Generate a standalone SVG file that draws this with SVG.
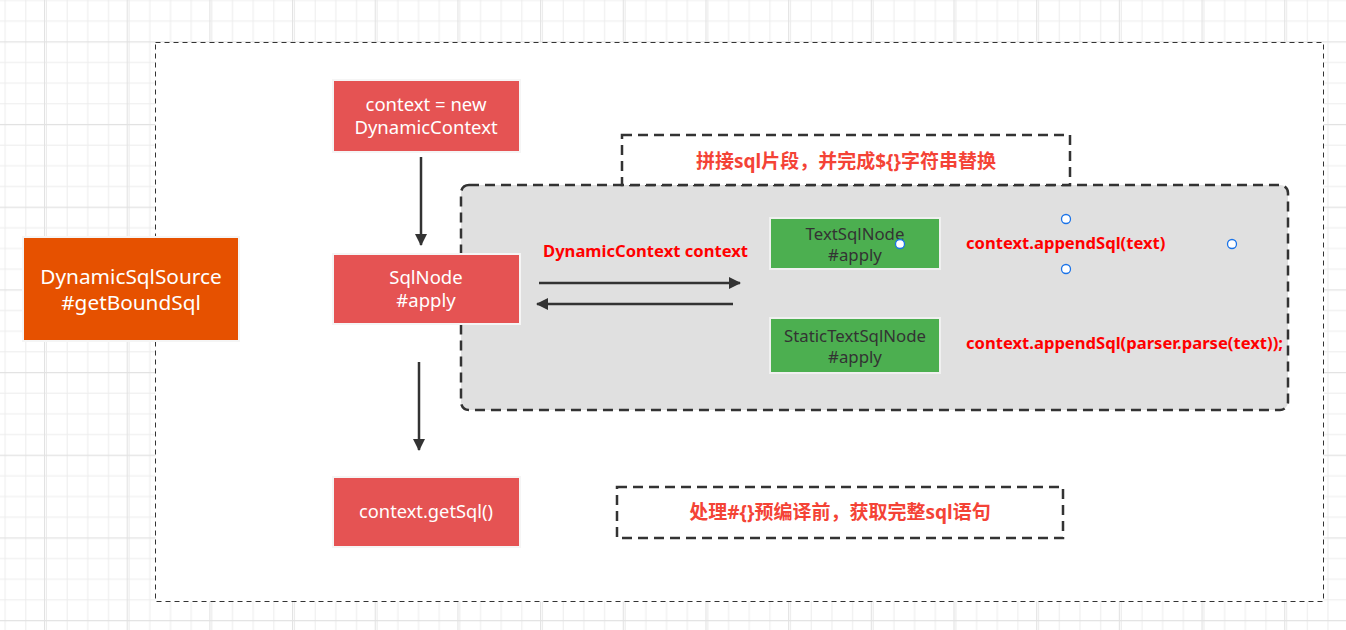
<svg xmlns="http://www.w3.org/2000/svg" width="1346" height="630" viewBox="0 0 1346 630">
<defs>
<pattern id="gs" width="20.67" height="20.67" patternUnits="userSpaceOnUse" x="2" y="0">
<path d="M0 0.5H20.67M0.5 0V20.67" fill="none" stroke="#ececec" stroke-width="1"/>
</pattern>
<pattern id="gl" width="82.68" height="82.68" patternUnits="userSpaceOnUse" x="44" y="41.3">
<rect width="82.68" height="82.68" fill="url(#gs)"/>
<path d="M0 0.5H82.68M0.5 0V82.68" fill="none" stroke="#e2e2e2" stroke-width="1.3"/>
</pattern>
<marker id="ah" viewBox="0 0 12 12" refX="11" refY="6" markerWidth="12" markerHeight="12" markerUnits="userSpaceOnUse" orient="auto">
<path d="M0 0L12 6L0 12Z" fill="#333"/>
</marker>
<style>
.red{fill:#e55353;stroke:#f5f5f5;stroke-width:2}
.grn{fill:#4caf50;stroke:#f0f0f0;stroke-width:2}
.wt{font-family:"Noto Sans","Noto Sans CJK SC",sans-serif;fill:#fff;text-anchor:middle}
.dt{font-family:"Noto Sans","Noto Sans CJK SC",sans-serif;fill:#333;font-size:16.8px;text-anchor:middle}
.rb{font-family:"Noto Sans","Noto Sans CJK SC",sans-serif;fill:#ff0000;font-weight:bold;font-size:16.6px}
.lb{font-family:"Noto Sans","Noto Sans CJK SC",sans-serif;fill:#f44336;font-weight:bold;font-size:19px;text-anchor:middle}
.dash{fill:#fff;stroke:#333;stroke-width:2.5;stroke-dasharray:10 6}
.cn{stroke:#333;stroke-width:2.5;fill:none;marker-end:url(#ah)}
.hd{fill:#fff;stroke:#1a73e8;stroke-width:1.3}
</style>
</defs>
<rect width="1346" height="630" fill="#fff"/>
<rect width="1346" height="630" fill="url(#gl)"/>
<g id="outer">
<rect x="155.5" y="42.5" width="1168" height="559" fill="#fff" stroke="#333" stroke-width="1" stroke-dasharray="5 4"/>
</g>
<g id="source">
<rect x="23" y="237" width="216" height="104" fill="#e65100" stroke="#f5f5f5" stroke-width="2"/>
<text class="wt" font-size="20.8" x="131" y="284">DynamicSqlSource</text>
<text class="wt" font-size="20.8" x="131" y="310">#getBoundSql</text>
</g>
<g id="ctxnew">
<rect class="red" x="333" y="80" width="187" height="72"/>
<text class="wt" font-size="18.5" x="426" y="111">context = new</text>
<text class="wt" font-size="18.5" x="426" y="134">DynamicContext</text>
</g>
<g id="group">
<rect x="461" y="185" width="827" height="225" rx="8" fill="#e0e0e0" stroke="#333" stroke-width="2.5" stroke-dasharray="10 6"/>
</g>
<g id="label1">
<rect class="dash" x="622" y="135" width="448" height="50"/>
<text class="lb" x="846" y="168">拼接sql片段，并完成${}字符串替换</text>
</g>
<g id="sqlnode">
<rect class="red" x="333" y="254" width="187" height="70"/>
<text class="wt" font-size="18.5" x="426" y="284">SqlNode</text>
<text class="wt" font-size="18.5" x="426" y="307">#apply</text>
</g>
<g id="getsql">
<rect class="red" x="333" y="477" width="187" height="70"/>
<text class="wt" font-size="18.3" x="426" y="518">context.getSql()</text>
</g>
<g id="textsqlnode">
<rect class="grn" x="770" y="218" width="170" height="51"/>
<text class="dt" x="855" y="240">TextSqlNode</text>
<text class="dt" x="855" y="261">#apply</text>
</g>
<g id="statictextsqlnode">
<rect class="grn" x="770" y="318" width="170" height="55"/>
<text class="dt" x="855" y="342">StaticTextSqlNode</text>
<text class="dt" x="855" y="363">#apply</text>
</g>
<g id="texts">
<text class="rb" x="543" y="257">DynamicContext context</text>
<text class="rb" x="966" y="249">context.appendSql(text)</text>
<text class="rb" x="966" y="349">context.appendSql(parser.parse(text));</text>
</g>
<g id="label2">
<rect class="dash" x="617" y="487" width="446" height="51"/>
<text class="lb" x="840" y="519">处理#{}预编译前，获取完整sql语句</text>
</g>
<g id="connectors">
<line class="cn" x1="421" y1="157" x2="421" y2="245"/>
<line class="cn" x1="419" y1="362" x2="419" y2="450"/>
<line class="cn" x1="539" y1="283" x2="740" y2="283"/>
<line class="cn" x1="733" y1="304" x2="537" y2="304"/>
</g>
<g id="handles">
<circle class="hd" cx="900" cy="244" r="4.5"/>
<circle class="hd" cx="1066" cy="219" r="4.5"/>
<circle class="hd" cx="1066" cy="269" r="4.5"/>
<circle class="hd" cx="1232" cy="244" r="4.5"/>
</g>
</svg>
